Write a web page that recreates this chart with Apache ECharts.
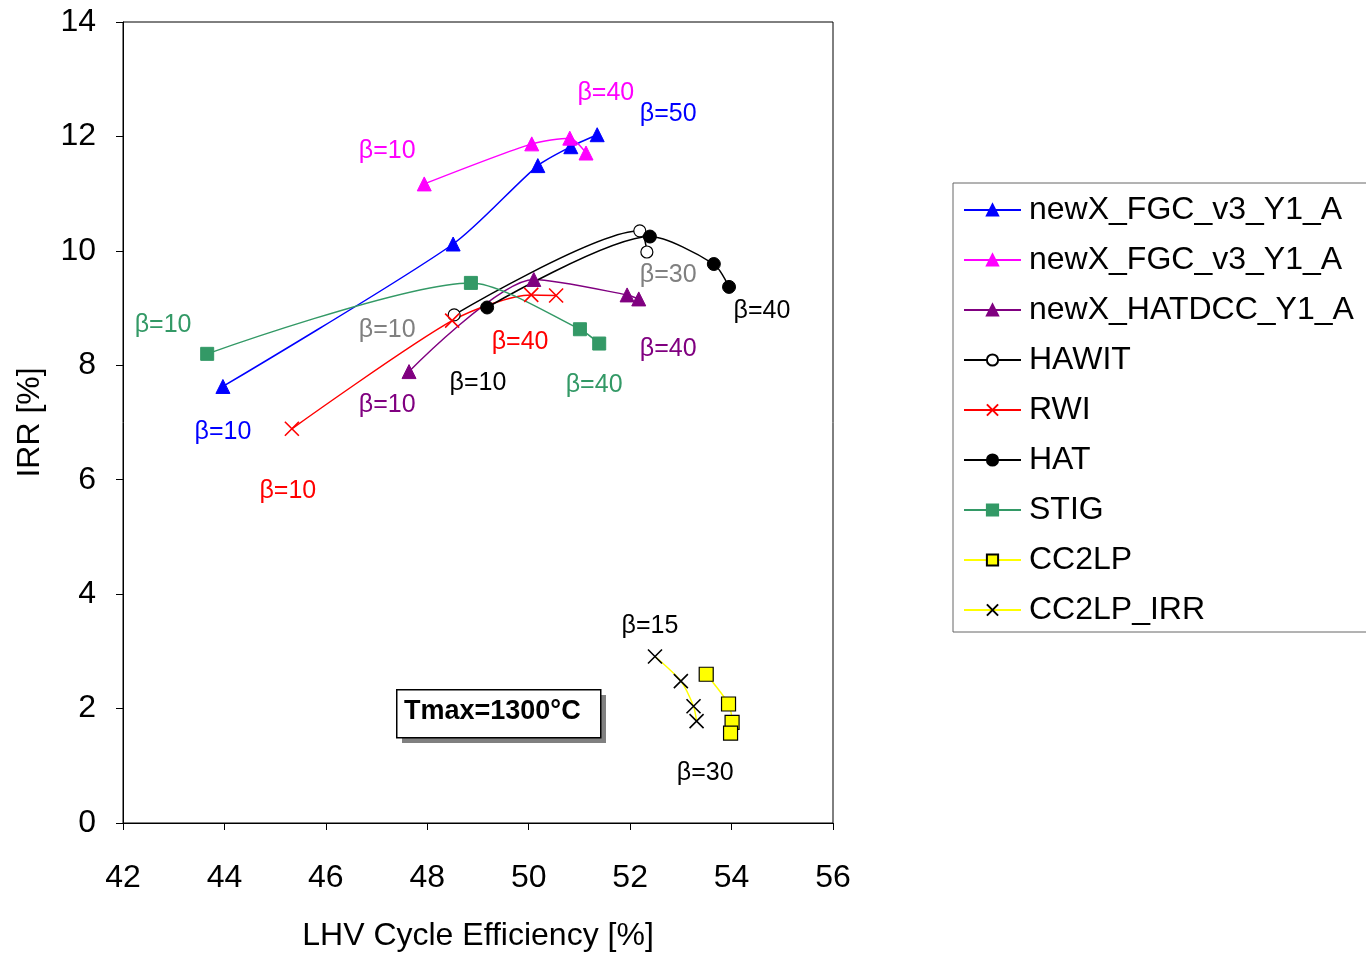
<!DOCTYPE html>
<html><head><meta charset="utf-8">
<script src="https://cdn.jsdelivr.net/npm/echarts@6/dist/echarts.min.js"></script>
<style>html,body{margin:0;padding:0;background:#fff}#c{width:1366px;height:957px}</style>
</head><body><div id="c"></div>
<script>
// ---- data ----
const seriesNames = ['newX_FGC_v3_Y1_A','newX_FGC_v3_Y1_A ','newX_HATDCC_Y1_A','HAWIT','RWI','HAT','STIG','CC2LP','CC2LP_IRR'];
const fgcBlue    = [[43.97,7.63],[48.51,10.12],[50.18,11.49],[50.83,11.82],[51.35,12.03]];
const fgcMagenta = [[47.94,11.17],[50.06,11.87],[50.81,11.97],[51.13,11.71]];
const hatdcc     = [[47.64,7.89],[50.10,9.50],[51.94,9.23],[52.17,9.16]];
const hawit      = [[48.53,8.88],[52.19,10.35],[52.33,9.98]];
const rwi        = [[45.33,6.89],[48.49,8.78],[50.05,9.23],[50.54,9.22]];
const hat        = [[49.18,9.01],[52.39,10.25],[53.65,9.77],[53.95,9.37]];
const stig       = [[43.66,8.20],[48.86,9.44],[51.01,8.63],[51.39,8.38]];
const cc2lp      = [[53.50,2.60],[53.94,2.08],[54.01,1.76],[53.98,1.57]];
const cc2lpIrr   = [[52.49,2.91],[53.00,2.48],[53.25,2.04],[53.31,1.78]];
// annotations: [x, y, text, colour]
const annotations = [
  [51.52,12.76,'β=40','#FF00FF'],
  [52.75,12.39,'β=50','#0000FF'],
  [47.21,11.75,'β=10','#FF00FF'],
  [42.79,8.71,'β=10','#339966'],
  [52.75,9.58,'β=30','#808080'],
  [54.60,8.94,'β=40','#000000'],
  [47.21,8.62,'β=10','#808080'],
  [49.83,8.41,'β=40','#FF0000'],
  [52.75,8.29,'β=40','#800080'],
  [49.00,7.68,'β=10','#000000'],
  [51.29,7.65,'β=40','#339966'],
  [47.21,7.31,'β=10','#800080'],
  [43.97,6.84,'β=10','#0000FF'],
  [45.25,5.80,'β=10','#FF0000'],
  [52.39,3.44,'β=15','#000000'],
  [53.48,0.87,'β=30','#000000']
];
const xTicks = {min:42,max:56,interval:2};
const yTicks = {min:0,max:14,interval:2};

const FONT = '"Liberation Sans", Arial, sans-serif';
const X = 'path://M0,0L10,10M10,0L0,10';

function line(name, data, color, symbol, size, extra) {
  const s = {
    name, type:'line', data, smooth:0.25, symbol, symbolSize:size,
    lineStyle:{color, width:1.5},
    itemStyle:{color, borderColor:color, borderWidth:1},
    emphasis:{disabled:true}, z:3
  };
  return Object.assign(s, extra||{});
}

const chart = echarts.init(document.getElementById('c'), null, {renderer:'canvas'});
chart.setOption({
  animation:false,
  textStyle:{fontFamily:FONT},
  grid:{left:123, top:22, right:533, bottom:133, show:true, borderColor:'#000', borderWidth:1, backgroundColor:'transparent'},
  xAxis:{
    type:'value', min:xTicks.min, max:xTicks.max, interval:xTicks.interval,
    name:'LHV Cycle Efficiency [%]', nameLocation:'middle', nameGap:97,
    nameTextStyle:{fontSize:32, color:'#000', fontFamily:FONT},
    axisLine:{lineStyle:{color:'#000', width:1}},
    axisTick:{show:true, length:7, lineStyle:{color:'#000'}},
    axisLabel:{fontSize:32, color:'#000', margin:39, fontFamily:FONT},
    splitLine:{show:false}
  },
  yAxis:{
    type:'value', min:yTicks.min, max:yTicks.max, interval:yTicks.interval,
    name:'IRR [%]', nameLocation:'middle', nameGap:77,
    nameTextStyle:{fontSize:32, color:'#000', fontFamily:FONT},
    axisLine:{show:true, lineStyle:{color:'#000', width:1}},
    axisTick:{show:true, length:7, lineStyle:{color:'#000'}},
    axisLabel:{fontSize:32, color:'#000', margin:27, fontFamily:FONT},
    splitLine:{show:false}
  },
  legend:{
    orient:'vertical', left:953, top:183,
    data:seriesNames,
    formatter: n => n.trim(),
    itemWidth:57, itemHeight:14, itemGap:18,
    padding:[11,20,6,10],
    borderColor:'#666', borderWidth:1,
    textStyle:{fontSize:32, lineHeight:32, color:'#000', fontFamily:FONT, padding:[0,0,0,3]},
    selectedMode:false
  },
  series:[
    line(seriesNames[0], fgcBlue, '#0000FF', 'triangle', 14),
    line(seriesNames[1], fgcMagenta, '#FF00FF', 'triangle', 14),
    line(seriesNames[2], hatdcc, '#800080', 'triangle', 14),
    line(seriesNames[3], hawit, '#000000', 'circle', 12, {itemStyle:{color:'#fff', borderColor:'#000', borderWidth:1.2}}),
    line(seriesNames[4], rwi, '#FF0000', X, 14, {itemStyle:{color:'#FF0000', borderColor:'#FF0000', borderWidth:1.6}}),
    line(seriesNames[5], hat, '#000000', 'circle', 13),
    line(seriesNames[6], stig, '#339966', 'rect', 13),
    line(seriesNames[7], cc2lp, '#FFFF00', 'rect', 14, {itemStyle:{color:'#FFFF00', borderColor:'#000', borderWidth:1.2}}),
    line(seriesNames[8], cc2lpIrr, '#FFFF00', X, 14, {itemStyle:{color:'#000', borderColor:'#000', borderWidth:1.6}}),
    {
      type:'scatter', name:'labels', symbolSize:0, silent:true, z:5,
      itemStyle:{opacity:1},
      data: annotations.map(a => ({value:[a[0],a[1]], label:{formatter:a[2], color:a[3]}})),
      label:{show:true, position:'inside', fontSize:25, fontFamily:FONT, opacity:1}
    }
  ],
  graphic:[
    {type:'rect', left:402, top:695, shape:{width:204, height:48}, style:{fill:'#808080'}, z:10},
    {type:'rect', left:396, top:689, shape:{width:204, height:48}, style:{fill:'#fff', stroke:'#000', lineWidth:1.5}, z:11},
    {type:'text', left:404, top:698, style:{text:'Tmax=1300°C', font:'bold 27px '+FONT, fill:'#000'}, z:12}
  ]
});
</script></body></html>
